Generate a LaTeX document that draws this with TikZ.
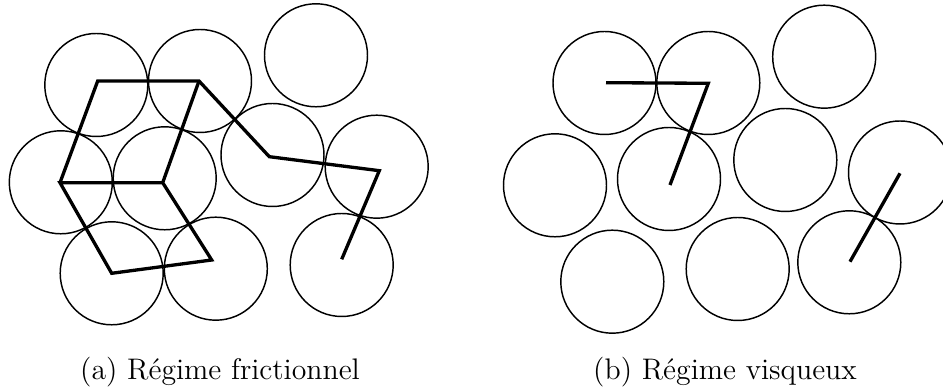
\documentclass[tikz,border=0pt]{standalone}
\usepackage{tikz}

\begin{document}
\begin{tikzpicture}[
  x=0.3765pt, y=-0.3765pt,
  grain/.style={draw, line width=0.55pt},
  chain/.style={draw, line width=1.25pt, line join=miter},
  legend/.style={anchor=base, font=\fontsize{11.2}{13}\selectfont, inner sep=0pt}
]
  \useasboundingbox (0,0) rectangle (943,392);
  \clip (0,0) rectangle (943,392);

  % Grains (a)
  \foreach \gx/\gy in {96.3/85, 200/81, 316/55.3, 60.8/182.3, 164.7/178.3,
                       272.5/155, 376.7/166.7, 111.7/273.3, 215.8/268.7, 341.7/265}
    \path[grain] (\gx,\gy) circle [radius=51.5];

  % Grains (b)
  \foreach \gx/\gy in {604.5/83, 708.3/83, 824.2/56.7, 555/185.3, 669/179,
                       785.3/160, 900/172.5, 612.3/281.7, 737.7/269, 849.3/262.3}
    \path[grain] (\gx,\gy) circle [radius=51.5];

  % Force chains (a)
  \coordinate (a1) at (97.7,81);
  \coordinate (a2) at (199,81);
  \coordinate (a3) at (269.3,156.7);
  \coordinate (a4) at (379.3,170.7);
  \coordinate (a5) at (341.7,259.3);
  \coordinate (b1) at (60,182.7);
  \coordinate (b2) at (162.7,182.7);
  \coordinate (b3) at (111.7,273.3);
  \coordinate (b4) at (211.7,260);

  \path[chain] (b1) -- (a1) -- (a2) -- (a3) -- (a4) -- (a5);
  \path[chain] (a2) -- (b2) -- (b1) -- (b3) -- (b4) -- (b2);

  % Force chains (b)
  \coordinate (c1) at (606,82.7);
  \coordinate (c2) at (708.3,83.3);
  \coordinate (c3) at (670,185);
  \coordinate (d1) at (900,173.3);
  \coordinate (d2) at (850,261.7);

  \path[chain] (c1) -- (c2) -- (c3);
  \path[chain] (d1) -- (d2);

  % Legends
  \node[legend] (capa) at (220,380) {(a) Régime frictionnel};
  \node[legend] (capb) at (725,380) {(b) Régime visqueux};
\end{tikzpicture}
\end{document}
